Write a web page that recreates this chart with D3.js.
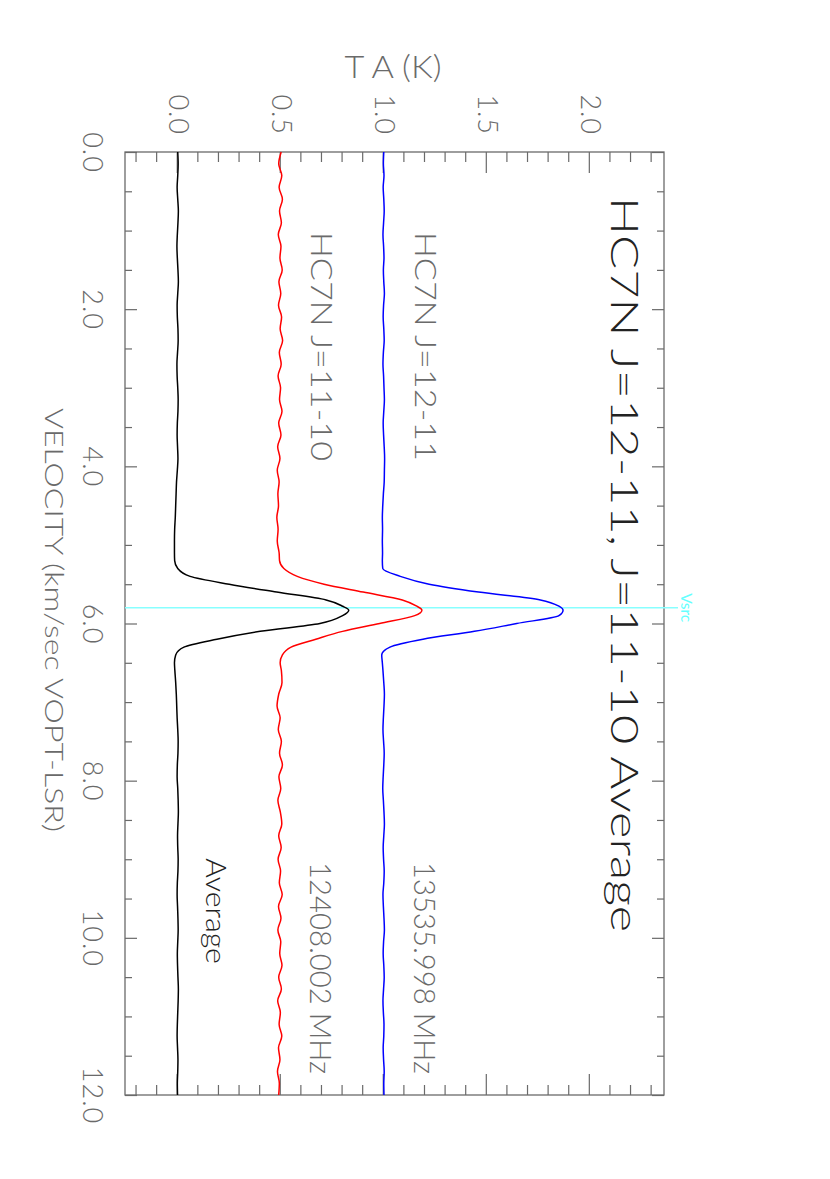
<!DOCTYPE html>
<html>
<head>
<meta charset="utf-8">
<script src="https://cdn.jsdelivr.net/npm/d3@7"></script>
<style>
  html, body { margin: 0; padding: 0; background: #fff; }
  #chart { width: 830px; height: 1179px; }
</style>
</head>
<body>
<div id="chart"></div>
<script>
// HC7N spectra, drawn as a landscape plot and turned 90 degrees clockwise

const velocity = [
  0.0, 0.15, 0.3, 0.45, 0.6, 0.75, 0.9, 1.05, 1.2, 1.35, 1.5, 1.65, 1.8, 1.95, 2.1, 2.25, 2.4, 2.55,
  2.7, 2.85, 3.0, 3.15, 3.3, 3.45, 3.6, 3.75, 3.9, 4.05, 4.2, 4.35, 4.5, 4.65, 4.8, 4.95, 5.1,
  5.2, 5.3, 5.4, 5.5, 5.6, 5.7, 5.78, 5.83, 5.9, 6.0, 6.1, 6.2, 6.3, 6.4, 6.5,
  6.6, 6.75, 6.9, 7.05, 7.2, 7.35, 7.5, 7.65, 7.8, 7.95, 8.1, 8.25, 8.4, 8.55, 8.7, 8.85, 9.0, 9.15,
  9.3, 9.45, 9.6, 9.75, 9.9, 10.05, 10.2, 10.35, 10.5, 10.65, 10.8, 10.95, 11.1, 11.25, 11.4, 11.55,
  11.7, 11.85, 12.0
]

const averageTa = [
  0.000, 0.002, 0.000, -0.003, 0.000, 0.003, 0.001, -0.002, -0.004, -0.002,
  0.001, 0.003, 0.000, -0.003, -0.002, 0.001, 0.002, -0.001, -0.004, -0.003,
  0.000, 0.002, 0.001, -0.002, -0.003, -0.001, 0.001, -0.002, -0.006, -0.008,
  -0.010, -0.012, -0.015, -0.016, -0.016,
  -0.015, 0.000, 0.060, 0.250, 0.480, 0.720, 0.800, 0.830, 0.800, 0.690, 0.400, 0.190, 0.030, -0.010, -0.016,
  -0.014, -0.010, -0.007, -0.005, -0.003, 0.000, 0.002, 0.001, -0.002, -0.003,
  0.000, 0.002, 0.003, 0.001, -0.001, 0.000, 0.002, 0.001, -0.002, -0.003,
  -0.001, 0.001, 0.002, 0.000, -0.002, -0.001, 0.001, 0.003, 0.002, 0.000,
  -0.002, -0.003, -0.001, 0.001, 0.000, -0.002, -0.001
]

const j1110Ta = [
  0.502, 0.490, 0.505, 0.492, 0.508, 0.494, 0.503, 0.488, 0.501, 0.496,
  0.507, 0.491, 0.500, 0.489, 0.504, 0.497, 0.509, 0.493, 0.502, 0.487,
  0.499, 0.494, 0.506, 0.490, 0.501, 0.485, 0.496, 0.483, 0.492, 0.486,
  0.489, 0.481, 0.487, 0.483, 0.492,
  0.494, 0.515, 0.580, 0.710, 0.900, 1.090, 1.160, 1.185, 1.150, 0.980, 0.800, 0.670, 0.550, 0.508, 0.497,
  0.503, 0.506, 0.490, 0.482, 0.497, 0.488, 0.503, 0.494, 0.508, 0.491,
  0.500, 0.486, 0.498, 0.505, 0.490, 0.502, 0.487, 0.499, 0.493, 0.507,
  0.489, 0.501, 0.486, 0.500, 0.495, 0.506, 0.490, 0.503, 0.485, 0.498,
  0.492, 0.505, 0.489, 0.496, 0.484, 0.493, 0.490
]

const j1211Ta = [
  1.000, 0.998, 1.001, 0.997, 1.000, 1.002, 0.999, 0.996, 0.999, 1.001,
  0.998, 1.000, 1.003, 0.999, 0.997, 1.000, 1.002, 0.998, 0.996, 0.999,
  1.001, 1.003, 1.000, 0.997, 0.999, 1.002, 1.004, 1.003, 1.002, 0.998,
  0.995, 0.993, 0.994, 0.993, 0.994,
  0.993, 0.995, 1.080, 1.220, 1.460, 1.760, 1.850, 1.870, 1.850, 1.645, 1.440, 1.190, 1.030, 0.990, 0.993,
  0.996, 1.000, 1.003, 1.001, 0.998, 0.996, 0.999, 1.002, 1.000, 0.997,
  0.995, 0.998, 1.001, 1.003, 1.000, 0.997, 0.999, 1.002, 1.000, 0.996,
  0.998, 1.001, 1.003, 0.999, 0.997, 1.000, 1.002, 0.999, 0.996, 0.998,
  1.001, 1.000, 0.997, 0.999, 1.002, 1.000, 1.001
]

const velMajorTicks = [0, 2, 4, 6, 8, 10, 12]
const velMinorTicks = [0.5, 1, 1.5, 2.5, 3, 3.5, 4.5, 5, 5.5, 6.5, 7, 7.5, 8.5, 9, 9.5, 10.5, 11, 11.5]
const taMajorTicks = [0, 0.5, 1.0, 1.5, 2.0]
const taMinorTicks = [-0.2, -0.1, 0.1, 0.2, 0.3, 0.4, 0.6, 0.7, 0.8, 0.9, 1.1, 1.2, 1.3, 1.4,
  1.6, 1.7, 1.8, 1.9, 2.1, 2.2, 2.3]
const vsrc = 5.8

const W = 830, H = 1179
const font = "Lato, Roboto, 'DejaVu Sans', sans-serif"
const gray = "#6a6a6a"

const svg = d3.select("#chart").append("svg")
  .attr("width", W)
  .attr("height", H)
  .style("background", "#fff")

// landscape frame: X runs along velocity, Y across temperature
const g = svg.append("g").attr("transform", `translate(${W},0) rotate(90)`)

const x = d3.scaleLinear().domain([0, 12]).range([152, 1095])
const y = d3.scaleLinear().domain([-0.256, 2.36]).range([705, 166])

const plotLeft = x.range()[0], plotRight = x.range()[1]
const plotTop = y.range()[1], plotBottom = y.range()[0]

function styleAxis(sel) {
  sel.select(".domain").remove()
  sel.selectAll("line").attr("stroke", gray).attr("stroke-width", 1.2)
  sel.selectAll("text")
    .attr("fill", gray)
    .style("font-family", font)
    .style("font-weight", 300)
    .style("font-size", "27px")
    .style("letter-spacing", "1px")
}

// velocity axis (bottom) with labels, plus mirrored ticks on top
g.append("g").attr("transform", `translate(0,${plotBottom})`)
  .call(d3.axisBottom(x).tickValues(velMinorTicks).tickSize(-7).tickFormat(""))
  .call(styleAxis)
g.append("g").attr("transform", `translate(0,${plotBottom})`)
  .call(d3.axisBottom(x).tickValues(velMajorTicks).tickSize(-12).tickPadding(23).tickFormat(d3.format(".1f")))
  .call(styleAxis)
g.append("g").attr("transform", `translate(0,${plotTop})`)
  .call(d3.axisTop(x).tickValues(velMinorTicks).tickSize(-7).tickFormat(""))
  .call(styleAxis)
g.append("g").attr("transform", `translate(0,${plotTop})`)
  .call(d3.axisTop(x).tickValues(velMajorTicks).tickSize(-12).tickFormat(""))
  .call(styleAxis)

// temperature axis (left) with labels, plus mirrored ticks on the right
g.append("g").attr("transform", `translate(${plotLeft},0)`)
  .call(d3.axisLeft(y).tickValues(taMinorTicks).tickSize(-10).tickFormat(""))
  .call(styleAxis)
g.append("g").attr("transform", `translate(${plotLeft},0)`)
  .call(d3.axisLeft(y).tickValues(taMajorTicks).tickSize(-21).tickPadding(17).tickFormat(d3.format(".1f")))
  .call(styleAxis)
g.append("g").attr("transform", `translate(${plotRight},0)`)
  .call(d3.axisRight(y).tickValues(taMinorTicks).tickSize(-10).tickFormat(""))
  .call(styleAxis)
g.append("g").attr("transform", `translate(${plotRight},0)`)
  .call(d3.axisRight(y).tickValues(taMajorTicks).tickSize(-21).tickFormat(""))
  .call(styleAxis)

// frame
g.append("rect")
  .attr("x", plotLeft).attr("y", plotTop)
  .attr("width", plotRight - plotLeft).attr("height", plotBottom - plotTop)
  .attr("fill", "none")
  .attr("stroke", gray)
  .attr("stroke-width", 1.3)

// source velocity marker
g.append("line")
  .attr("x1", x(vsrc)).attr("x2", x(vsrc))
  .attr("y1", plotBottom).attr("y2", plotTop - 14)
  .attr("stroke", "#88ffff")
  .attr("stroke-width", 1.5)
g.append("text")
  .attr("x", x(vsrc)).attr("y", plotTop - 17)
  .attr("text-anchor", "middle")
  .attr("fill", "#66ffff")
  .attr("textLength", 29)
  .attr("lengthAdjust", "spacingAndGlyphs")
  .style("font-family", font)
  .style("font-size", "16px")
  .text("Vsrc")

// spectra
const line = d3.line()
  .x((d, i) => x(velocity[i]))
  .y(d => y(d))
  .curve(d3.curveMonotoneX)

const series = [
  { values: averageTa, color: "#000000" },
  { values: j1110Ta, color: "#ff0000" },
  { values: j1211Ta, color: "#0000ff" }
]

g.selectAll(".spec")
  .data(series)
  .enter()
  .append("path")
  .attr("class", "spec")
  .attr("fill", "none")
  .attr("stroke", d => d.color)
  .attr("stroke-width", 1.5)
  .attr("stroke-linejoin", "round")
  .attr("d", d => line(d.values))

// labels
function label(txt, X, Y, size, len, color) {
  return g.append("text")
    .attr("x", X).attr("y", Y)
    .attr("fill", color)
    .attr("textLength", len)
    .attr("lengthAdjust", "spacingAndGlyphs")
    .style("font-family", font)
    .style("font-weight", 300)
    .style("font-size", size + "px")
    .text(txt)
}

label("HC7N J=12-11, J=11-10 Average", 197, 219, 38, 735, "#222")
label("HC7N J=12-11", 232, 415, 30, 229, gray)
label("HC7N J=11-10", 232, 519, 30, 229, gray)
label("13535.998 MHz", 862, 416, 30, 212, gray)
label("12408.002 MHz", 862, 520, 30, 212, gray)
label("Average", 858, 624, 28, 106, "#222")
label("VELOCITY (km/sec VOPT-LSR)", 408, 785, 26, 424, gray)

// temperature axis title, upright once the plot is turned
g.append("text")
  .attr("transform", `translate(78,${W - 393}) rotate(-90)`)
  .attr("text-anchor", "middle")
  .attr("fill", gray)
  .attr("textLength", 97)
  .attr("lengthAdjust", "spacingAndGlyphs")
  .style("font-family", font)
  .style("font-weight", 300)
  .style("font-size", "31px")
  .text("T A (K)")
</script>
</body>
</html>
